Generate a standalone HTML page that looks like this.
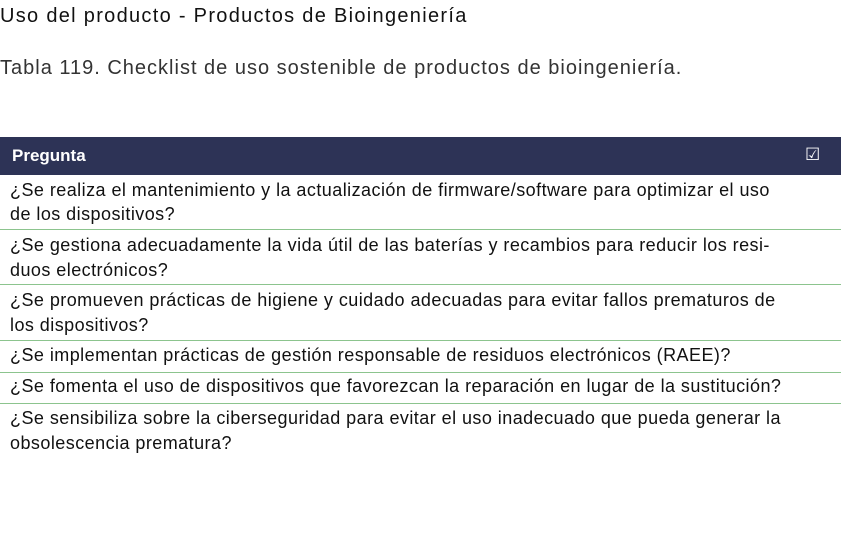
<!DOCTYPE html>
<html><head><meta charset="utf-8"><style>
body{margin:0;width:841px;height:534px;background:#fff;font-family:"Liberation Sans",sans-serif;color:#111;position:relative;overflow:hidden}
.t{position:absolute;left:0;white-space:nowrap}
.l{position:absolute;left:10px;white-space:nowrap;font-size:18px;line-height:20px;letter-spacing:0.45px}
.h{position:absolute;left:0;width:841px;height:1px;background:#8cc48e}
</style></head><body>
<div class="t" style="top:5px;font-size:20px;letter-spacing:1.3px">Uso del producto - Productos de Bioingeniería</div>
<div class="t" style="top:57px;font-size:20px;color:#333;letter-spacing:1px">Tabla 119. Checklist de uso sostenible de productos de bioingeniería.</div>
<div style="position:absolute;left:0;top:137px;width:841px;height:38px;background:#2d3356"></div>
<div style="position:absolute;left:12px;top:146px;color:#fff;font-weight:bold;font-size:17px">Pregunta</div>
<div style="position:absolute;left:805px;top:145px;color:#fff;font-size:17px">☑</div>
<div class="l" style="top:180px">¿Se realiza el mantenimiento y la actualización de firmware/software para optimizar el uso</div>
<div class="l" style="top:204px">de los dispositivos?</div>
<div class="h" style="top:229px"></div>
<div class="l" style="top:235px">¿Se gestiona adecuadamente la vida útil de las baterías y recambios para reducir los resi-</div>
<div class="l" style="top:260px">duos electrónicos?</div>
<div class="h" style="top:284px"></div>
<div class="l" style="top:290px">¿Se promueven prácticas de higiene y cuidado adecuadas para evitar fallos prematuros de</div>
<div class="l" style="top:315px">los dispositivos?</div>
<div class="h" style="top:340px"></div>
<div class="l" style="top:345px">¿Se implementan prácticas de gestión responsable de residuos electrónicos (RAEE)?</div>
<div class="h" style="top:372px"></div>
<div class="l" style="top:376px">¿Se fomenta el uso de dispositivos que favorezcan la reparación en lugar de la sustitución?</div>
<div class="h" style="top:403px"></div>
<div class="l" style="top:408px">¿Se sensibiliza sobre la ciberseguridad para evitar el uso inadecuado que pueda generar la</div>
<div class="l" style="top:433px">obsolescencia prematura?</div>
</body></html>
